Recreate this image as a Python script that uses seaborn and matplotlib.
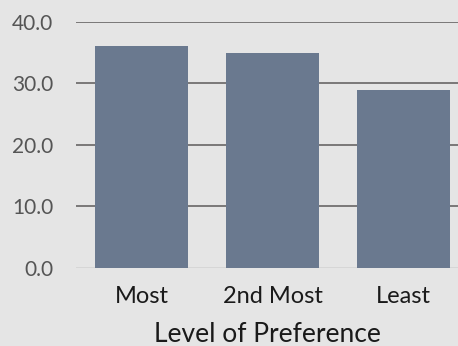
import matplotlib
matplotlib.use("Agg")
import matplotlib.pyplot as plt
import seaborn as sns
import pandas as pd

# Share of respondents by preference level
levels = ["Most", "2nd Most", "Least"]
shares = [36.1, 34.9, 28.9]
y_ticks = [0, 10, 20, 30, 40]

df = pd.DataFrame({"level": levels, "share": shares})

sns.set_theme(style="white")
plt.rcParams["font.family"] = ["Lato", "DejaVu Sans"]

bg = "#e5e5e5"
fig = plt.figure(figsize=(4.58, 3.46), dpi=100, facecolor=bg)
ax = fig.add_axes([76 / 458, 1 - 268 / 346, 1 - 76 / 458, (268 - 22) / 346])
ax.set_facecolor(bg)

sns.barplot(data=df, x="level", y="share", color="#6a798f", saturation=1,
            width=0.71, linewidth=0, edgecolor="none", ax=ax, zorder=3)

ax.set_ylim(0, 40)
ax.set_xlim(-0.5, 2.416)
ax.set_yticks(y_ticks)
ax.set_yticklabels([f"{t:.1f}" for t in y_ticks])

for t in y_ticks[1:]:
    ax.axhline(t, color="#7a7878", lw=1.4, zorder=1)
ax.axhline(0, color="#d6d6d6", lw=1.4, zorder=1)

for s in ax.spines.values():
    s.set_visible(False)
ax.tick_params(axis="both", length=0)
ax.tick_params(axis="y", labelsize=15, labelcolor="#555555", pad=16.5)
ax.tick_params(axis="x", labelsize=17, labelcolor="#1a1a1a", pad=13)
ax.set_ylabel("")
ax.set_xlabel("Level of Preference", fontsize=19, color="#1a1a1a", labelpad=11)

fig.savefig("out.png", dpi=100, facecolor=bg)
